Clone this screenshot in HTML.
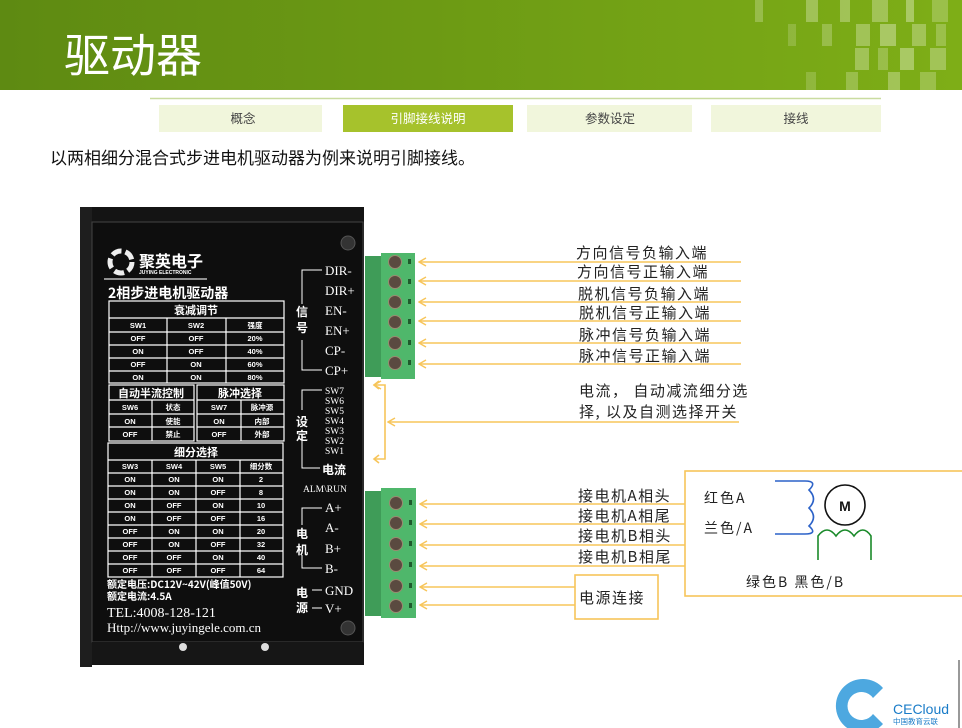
<!DOCTYPE html>
<html><head><meta charset="utf-8"><style>
html,body{margin:0;padding:0;background:#fff;width:962px;height:728px;overflow:hidden}
svg{display:block}
text{font-family:"Liberation Sans","Noto Sans CJK SC",sans-serif}
text.c,.c text{font-family:"Noto Sans CJK SC","WenQuanYi Zen Hei",sans-serif}
.t text,text.t{fill:#fff;font-size:7.5px;font-weight:bold;text-anchor:middle}
.th{fill:#fff;font-size:11px;font-weight:bold;text-anchor:middle}
.s text{fill:#fff;font-family:"Liberation Serif",serif}
.lab{font-size:15px;fill:#222;letter-spacing:1.5px}
.ol{stroke:#f7c55a;stroke-width:1.6;fill:none}
.g{stroke:#fff;stroke-width:1.2;fill:none}
</style></head><body>
<svg width="962" height="728" viewBox="0 0 962 728" xmlns="http://www.w3.org/2000/svg">
<defs>
<linearGradient id="hg" x1="0" x2="1" y1="0" y2="0"><stop offset="0" stop-color="#5e8a12"/><stop offset="1" stop-color="#7eae17"/></linearGradient>
<marker id="ar" markerWidth="10" markerHeight="10" refX="1" refY="5" orient="auto" markerUnits="userSpaceOnUse"><path d="M8,1 L1,5 L8,9" fill="none" stroke="#f7c55a" stroke-width="1.5"/></marker>
</defs>
<rect x="0" y="0" width="962" height="90" fill="url(#hg)"/>
<g fill="#c8dc98">
<rect x="755" y="0" width="8" height="22" opacity=".4"/><rect x="806" y="0" width="12" height="22" opacity=".5"/><rect x="840" y="0" width="10" height="22" opacity=".5"/><rect x="872" y="0" width="16" height="22" opacity=".5"/><rect x="906" y="0" width="8" height="22" opacity=".6"/><rect x="932" y="0" width="16" height="22" opacity=".4"/>
<rect x="788" y="24" width="8" height="22" opacity=".3"/><rect x="822" y="24" width="10" height="22" opacity=".4"/><rect x="856" y="24" width="14" height="22" opacity=".5"/><rect x="880" y="24" width="16" height="22" opacity=".6"/><rect x="912" y="24" width="14" height="22" opacity=".5"/><rect x="936" y="24" width="10" height="22" opacity=".4"/>
<rect x="855" y="48" width="14" height="22" opacity=".5"/><rect x="878" y="48" width="10" height="22" opacity=".4"/><rect x="900" y="48" width="14" height="22" opacity=".6"/><rect x="930" y="48" width="16" height="22" opacity=".5"/>
<rect x="806" y="72" width="10" height="18" opacity=".3"/><rect x="846" y="72" width="12" height="18" opacity=".4"/><rect x="888" y="72" width="12" height="18" opacity=".5"/><rect x="920" y="72" width="16" height="18" opacity=".4"/>
</g>
<text x="64" y="72" class="c" font-size="46" fill="#fff">驱动器</text>
<line x1="150" y1="98.5" x2="881" y2="98.5" stroke="#c9dca0" stroke-width="1.5"/>
<rect x="159" y="105" width="163" height="27" fill="#f1f6dc"/>
<rect x="343" y="105" width="170" height="27" fill="#a6c22c"/>
<rect x="527" y="105" width="165" height="27" fill="#f1f6dc"/>
<rect x="711" y="105" width="170" height="27" fill="#f1f6dc"/>
<g class="c" font-size="12.5" text-anchor="middle">
<text x="243" y="123" fill="#444">概念</text><text x="428" y="123" fill="#fff">引脚接线说明</text><text x="610" y="123" fill="#444">参数设定</text><text x="796" y="123" fill="#444">接线</text></g>
<text x="50" y="164" class="c" font-size="17" fill="#111">以两相细分混合式步进电机驱动器为例来说明引脚接线。</text>

<!-- driver -->
<rect x="80" y="207" width="284" height="458" fill="#141414"/>
<rect x="80" y="207" width="12" height="460" fill="#1e1e1e"/>
<rect x="92" y="222" width="271" height="420" fill="#0e0e0e" stroke="#444" stroke-width="1"/>
<rect x="92" y="642" width="271" height="22" fill="#161616"/>
<circle cx="183" cy="647" r="4" fill="#ddd"/><circle cx="265" cy="647" r="4" fill="#ddd"/>
<circle cx="348" cy="243" r="7" fill="#333" stroke="#555"/><circle cx="348" cy="628" r="7" fill="#333" stroke="#555"/>
<circle cx="121" cy="262" r="11" fill="none" stroke="#eee" stroke-width="5" stroke-dasharray="10 4"/>
<text x="139" y="267" class="c" font-size="16" font-weight="bold" fill="#fff">聚英电子</text>
<text x="139" y="274" font-size="5" font-weight="bold" fill="#fff">JUYING ELECTRONIC</text>
<line x1="104" y1="279" x2="207" y2="279" stroke="#ddd" stroke-width="1.2"/>
<text x="108" y="298" class="c" font-size="14" font-weight="bold" fill="#fff">2相步进电机驱动器</text>
<!-- table1 -->
<g class="g"><rect x="109" y="301" width="175" height="82"/><line x1="109" y1="318" x2="284" y2="318"/><line x1="109" y1="332" x2="284" y2="332"/><line x1="109" y1="345" x2="284" y2="345"/><line x1="109" y1="358" x2="284" y2="358"/><line x1="109" y1="371" x2="284" y2="371"/><line x1="167" y1="318" x2="167" y2="383"/><line x1="226" y1="318" x2="226" y2="383"/></g>
<text x="196" y="314" class="th c">衰减调节</text>
<g class="t"><text x="138" y="328">SW1</text><text x="196" y="328">SW2</text><text x="255" y="328" class="c">强度</text>
<text x="138" y="341">OFF</text><text x="196" y="341">OFF</text><text x="255" y="341">20%</text>
<text x="138" y="354">ON</text><text x="196" y="354">OFF</text><text x="255" y="354">40%</text>
<text x="138" y="367">OFF</text><text x="196" y="367">ON</text><text x="255" y="367">60%</text>
<text x="138" y="380">ON</text><text x="196" y="380">ON</text><text x="255" y="380">80%</text></g>
<!-- table2 -->
<g class="g"><rect x="109" y="385" width="85" height="56"/><line x1="109" y1="400" x2="194" y2="400"/><line x1="109" y1="414" x2="194" y2="414"/><line x1="109" y1="427" x2="194" y2="427"/><line x1="152" y1="400" x2="152" y2="441"/>
<rect x="197" y="385" width="87" height="56"/><line x1="197" y1="400" x2="284" y2="400"/><line x1="197" y1="414" x2="284" y2="414"/><line x1="197" y1="427" x2="284" y2="427"/><line x1="241" y1="400" x2="241" y2="441"/></g>
<text x="151" y="397" class="th c">自动半流控制</text><text x="240" y="397" class="th c">脉冲选择</text>
<g class="t"><text x="130" y="410">SW6</text><text x="173" y="410" class="c">状态</text><text x="219" y="410">SW7</text><text x="262" y="410" class="c">脉冲源</text>
<text x="130" y="424">ON</text><text x="173" y="424" class="c">使能</text><text x="219" y="424">ON</text><text x="262" y="424" class="c">内部</text>
<text x="130" y="437">OFF</text><text x="173" y="437" class="c">禁止</text><text x="219" y="437">OFF</text><text x="262" y="437" class="c">外部</text></g>
<!-- table3 -->
<g class="g"><rect x="108" y="443" width="175" height="134"/><line x1="108" y1="460" x2="283" y2="460"/><line x1="108" y1="473" x2="283" y2="473"/><line x1="108" y1="486" x2="283" y2="486"/><line x1="108" y1="499" x2="283" y2="499"/><line x1="108" y1="512" x2="283" y2="512"/><line x1="108" y1="525" x2="283" y2="525"/><line x1="108" y1="538" x2="283" y2="538"/><line x1="108" y1="551" x2="283" y2="551"/><line x1="108" y1="564" x2="283" y2="564"/>
<line x1="152" y1="460" x2="152" y2="577"/><line x1="196" y1="460" x2="196" y2="577"/><line x1="240" y1="460" x2="240" y2="577"/></g>
<text x="196" y="456" class="th c">细分选择</text>
<g class="t"><text x="130" y="469">SW3</text><text x="174" y="469">SW4</text><text x="218" y="469">SW5</text><text x="261" y="469" class="c">细分数</text>
<text x="130" y="482">ON</text><text x="174" y="482">ON</text><text x="218" y="482">ON</text><text x="261" y="482">2</text>
<text x="130" y="495">ON</text><text x="174" y="495">ON</text><text x="218" y="495">OFF</text><text x="261" y="495">8</text>
<text x="130" y="508">ON</text><text x="174" y="508">OFF</text><text x="218" y="508">ON</text><text x="261" y="508">10</text>
<text x="130" y="521">ON</text><text x="174" y="521">OFF</text><text x="218" y="521">OFF</text><text x="261" y="521">16</text>
<text x="130" y="534">OFF</text><text x="174" y="534">ON</text><text x="218" y="534">ON</text><text x="261" y="534">20</text>
<text x="130" y="547">OFF</text><text x="174" y="547">ON</text><text x="218" y="547">OFF</text><text x="261" y="547">32</text>
<text x="130" y="560">OFF</text><text x="174" y="560">OFF</text><text x="218" y="560">ON</text><text x="261" y="560">40</text>
<text x="130" y="573">OFF</text><text x="174" y="573">OFF</text><text x="218" y="573">OFF</text><text x="261" y="573">64</text></g>
<text x="107" y="588" class="c" font-size="10" font-weight="bold" fill="#fff">额定电压:DC12V~42V(峰值50V)</text>
<text x="107" y="600" class="c" font-size="10" font-weight="bold" fill="#fff">额定电流:4.5A</text>
<g class="s"><text x="107" y="617" font-size="14">TEL:4008-128-121</text>
<text x="107" y="632" font-size="13">Http://www.juyingele.com.cn</text></g>
<!-- right labels -->
<g class="s" font-size="13"><text x="325" y="275">DIR-</text><text x="325" y="295">DIR+</text><text x="325" y="315">EN-</text><text x="325" y="335">EN+</text><text x="325" y="355">CP-</text><text x="325" y="375">CP+</text>
<g font-size="9.5"><text x="325" y="394">SW7</text><text x="325" y="404">SW6</text><text x="325" y="414">SW5</text><text x="325" y="424">SW4</text><text x="325" y="434">SW3</text><text x="325" y="444">SW2</text><text x="325" y="454">SW1</text></g>
<text x="303" y="492" font-size="9.5">ALM\RUN</text>
<text x="325" y="512">A+</text><text x="325" y="532">A-</text><text x="325" y="553">B+</text><text x="325" y="573">B-</text><text x="325" y="595">GND</text><text x="325" y="613">V+</text></g>
<text x="322" y="474" class="c" font-size="12" font-weight="bold" fill="#fff">电流</text>
<g stroke="#fff" stroke-width="1" fill="none">
<path d="M322,270 H302 V304 M302,340 V370 H322"/>
<path d="M322,390 H302 V410 M302,435 V468 H320"/>
<path d="M322,508 H302 V525 M302,555 V568 H322"/>
<path d="M312,590 H322 M312,608 H322"/></g>
<g class="c" font-size="12" font-weight="bold" fill="#fff" text-anchor="middle">
<text x="302" y="316">信</text><text x="302" y="332">号</text>
<text x="302" y="426">设</text><text x="302" y="440">定</text>
<text x="302" y="538">电</text><text x="302" y="554">机</text>
<text x="302" y="597">电</text><text x="302" y="612">源</text></g>
<!-- terminals -->
<g>
<rect x="365" y="256" width="18" height="121" fill="#3f9c58"/><rect x="381" y="253" width="34" height="126" fill="#4fb76b"/>
<rect x="365" y="491" width="18" height="125" fill="#3f9c58"/><rect x="381" y="488" width="35" height="130" fill="#4fb76b"/>
<g fill="#5a4a40" stroke="#9a8a70" stroke-width="1">
<circle cx="395" cy="262" r="6.5"/><circle cx="395" cy="282" r="6.5"/><circle cx="395" cy="302" r="6.5"/><circle cx="395" cy="322" r="6.5"/><circle cx="395" cy="343" r="6.5"/><circle cx="395" cy="363" r="6.5"/>
<circle cx="396" cy="503" r="6.5"/><circle cx="396" cy="523" r="6.5"/><circle cx="396" cy="544" r="6.5"/><circle cx="396" cy="565" r="6.5"/><circle cx="396" cy="586" r="6.5"/><circle cx="396" cy="606" r="6.5"/></g>
<g fill="#1e5a2c"><rect x="408" y="259" width="3" height="5"/><rect x="408" y="279" width="3" height="5"/><rect x="408" y="299" width="3" height="5"/><rect x="408" y="319" width="3" height="5"/><rect x="408" y="340" width="3" height="5"/><rect x="408" y="360" width="3" height="5"/>
<rect x="409" y="500" width="3" height="5"/><rect x="409" y="520" width="3" height="5"/><rect x="409" y="541" width="3" height="5"/><rect x="409" y="562" width="3" height="5"/><rect x="409" y="583" width="3" height="5"/><rect x="409" y="603" width="3" height="5"/></g>
</g>
<!-- orange lines -->
<g class="ol" marker-start="url(#ar)">
<line x1="419" y1="262" x2="741" y2="262"/><line x1="419" y1="281" x2="741" y2="281"/><line x1="419" y1="302" x2="741" y2="302"/><line x1="419" y1="321" x2="741" y2="321"/><line x1="419" y1="343" x2="741" y2="343"/><line x1="419" y1="364" x2="741" y2="364"/>
<line x1="388" y1="422" x2="739" y2="422"/>
<line x1="420" y1="504" x2="685" y2="504"/><line x1="420" y1="524" x2="685" y2="524"/><line x1="420" y1="545" x2="685" y2="545"/><line x1="420" y1="566" x2="685" y2="566"/>
<line x1="420" y1="587" x2="575" y2="587"/><line x1="420" y1="605" x2="575" y2="605"/>
<path d="M374,385 H385 V459 H374"/></g>
<path d="M379,381 L374,385 L379,389 M379,455 L374,459 L379,463" class="ol"/>
<g class="c lab">
<text x="576" y="258">方向信号负输入端</text><text x="577" y="277">方向信号正输入端</text><text x="578" y="299">脱机信号负输入端</text><text x="579" y="318">脱机信号正输入端</text><text x="579" y="340">脉冲信号负输入端</text><text x="579" y="361">脉冲信号正输入端</text>
<text x="579" y="396">电流， 自动减流细分选</text><text x="579" y="417">择, 以及自测选择开关</text>
<text x="578" y="501">接电机A相头</text><text x="578" y="521">接电机A相尾</text><text x="578" y="541">接电机B相头</text><text x="578" y="562">接电机B相尾</text></g>
<rect x="575" y="575" width="83" height="44" class="ol"/>
<text x="579" y="603" class="c lab">电源连接</text>
<rect x="685" y="471" width="290" height="125" class="ol"/>
<g class="c" font-size="14" fill="#222" letter-spacing="2">
<text x="704" y="503">红色A</text><text x="704" y="533">兰色/A</text><text x="746" y="587">绿色B  黑色/B</text></g>
<path d="M775,481 H805 Q818,481 809,490 Q818,499 809,508 Q818,517 809,526 Q818,534 805,534 H775" fill="none" stroke="#2c62c8" stroke-width="1.6"/>
<circle cx="845" cy="505" r="20" fill="none" stroke="#111" stroke-width="1.6"/>
<text x="845" y="511" font-size="14" font-weight="bold" text-anchor="middle" fill="#111">M</text>
<path d="M818,560 V536 Q827,524 836,536 Q845,524 854,536 Q863,524 871,536 V560" fill="none" stroke="#1a8a2a" stroke-width="1.6"/>
<!-- logo -->
<path d="M883,688 A27,27 0 1 0 883,724 L873,714 A14,14 0 1 1 873,698 Z" fill="#4da8e0"/>
<text x="893" y="714" font-size="14" fill="#1a7cc8">CECloud</text>
<text x="893" y="724" class="c" font-size="7.5" fill="#1a7cc8">中国教育云联</text>
<line x1="959" y1="660" x2="959" y2="728" stroke="#333" stroke-width="1"/>
</svg>
</body></html>
